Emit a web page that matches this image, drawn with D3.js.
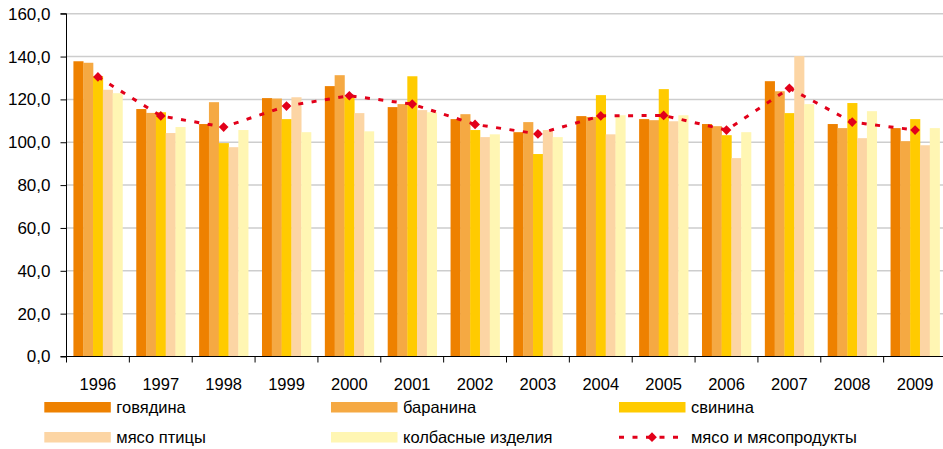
<!DOCTYPE html>
<html><head><meta charset="utf-8">
<script src="https://cdn.jsdelivr.net/npm/d3@7"></script>
<style>
html,body{margin:0;padding:0;background:#fff;}
svg{display:block;font-family:"Liberation Sans",Arial,sans-serif;}
</style></head>
<body>
<svg id="chart" width="943" height="449"></svg>
<script>
const years = ["1996","1997","1998","1999","2000","2001","2002","2003","2004","2005","2006","2007","2008","2009"];
const beef    = [137.8,115.5,108.5,120.6,126.2,116.4,110.8,104.7,112.2,110.8,108.5,128.5,108.5,106.6];
const mutton  = [137.1,113.7,118.7,120.4,131.3,117.8,113.1,109.4,111.8,110.3,107.5,123.8,106.6,100.5];
const pork    = [130.8,114.0, 99.6,110.8,121.0,130.8,105.7, 94.5,122.0,124.8,103.3,113.6,118.3,110.8];
const poultry = [124.5,104.3, 97.7,121.0,113.6,115.0,102.4,105.7,103.7,109.8, 92.6,140.2,101.9, 98.6];
const sausage = [122.9,107.1,105.7,104.7,105.1,114.0,103.7,102.4,112.6,112.6,104.7,117.8,114.5,106.6];
const meatTotal = [130.5,112.3,107.1,116.9,121.7,117.8,108.3,103.9,112.3,112.5,105.7,125.2,109.4,105.7];
const yTicks = [0,20,40,60,80,100,120,140,160];
const seriesNames = ["говядина","баранина","свинина","мясо птицы","колбасные изделия"];
const lineName = "мясо и мясопродукты";
const colors = ["#EE8100","#F5A943","#FFCB00","#FCD5A4","#FFF6B3"];
const lineColor = "#E2001A";

const seriesVals = [beef, mutton, pork, poultry, sausage];
const svg = d3.select("#chart");
const pLeft = 66.5, pRight = 946.5, pTop = 13.7, pBottom = 356.5;

const y = d3.scaleLinear().domain([0,160]).range([pBottom, pTop]);
const x = d3.scaleBand().domain(years).range([pLeft, pRight]).paddingInner(0.22).paddingOuter(0.11);
const xs = d3.scaleBand().domain(d3.range(5)).range([0, x.bandwidth()]);

// gridlines
svg.append("g").selectAll("line").data(yTicks.filter(d => d > 0)).join("line")
  .attr("x1", pLeft).attr("x2", 943).attr("y1", d => y(d)).attr("y2", d => y(d))
  .attr("stroke", "#CDCDCD").attr("stroke-width", 1.5);

// bars
const groups = svg.append("g").selectAll("g").data(years).join("g")
  .attr("transform", d => `translate(${x(d)},0)`);
groups.selectAll("rect").data((d, i) => seriesVals.map((s, k) => ({k, v: s[i]}))).join("rect")
  .attr("x", d => xs(d.k)).attr("width", xs.bandwidth() + 0.3)
  .attr("y", d => y(d.v)).attr("height", d => y(0) - y(d.v))
  .attr("fill", d => colors[d.k]);

// y axis
const yAxis = d3.axisLeft(y).tickValues(yTicks).tickSize(6).tickPadding(10)
  .tickFormat(d => d3.format(".1f")(d).replace(".", ","));
const gy = svg.append("g").attr("transform", `translate(${pLeft},0)`).call(yAxis);
gy.select(".domain").attr("stroke", "#000").attr("d", `M-6,${pTop}H0V${pBottom}H-6`);
gy.selectAll("text").attr("font-size", 17).attr("fill", "#000").attr("font-family", "Liberation Sans, Arial, sans-serif");

// x axis
const gx = svg.append("g").attr("transform", `translate(0,${pBottom})`);
gx.append("line").attr("x1", pLeft).attr("x2", 943).attr("y1", 0).attr("y2", 0).attr("stroke", "#000");
gx.selectAll("line.tk").data(d3.range(years.length + 1)).join("line").attr("class", "tk")
  .attr("x1", i => pLeft + i * x.step()).attr("x2", i => pLeft + i * x.step())
  .attr("y1", 0).attr("y2", 6).attr("stroke", "#000");
gx.selectAll("text").data(years).join("text")
  .attr("x", d => x(d) + x.bandwidth() / 2).attr("y", 33)
  .attr("text-anchor", "middle").attr("font-size", 16.5).attr("fill", "#000").text(d => d);

// line
const cx = (d, i) => x(years[i]) + x.bandwidth() / 2;
const line = d3.line().x((d, i) => cx(d, i)).y(d => y(d));
svg.append("path").datum(meatTotal).attr("d", line).attr("fill", "none")
  .attr("stroke", lineColor).attr("stroke-width", 3).attr("stroke-dasharray", "5,8.5");
const diamond = d3.symbol().type(d3.symbolDiamond2).size(60);
svg.append("g").selectAll("path").data(meatTotal).join("path")
  .attr("d", diamond).attr("fill", lineColor)
  .attr("transform", (d, i) => `translate(${cx(d, i)},${y(d)})`);

// legend
const legPos = [[44.3,402],[331,402],[619,402],[44.3,432],[331,432]];
const lg = svg.append("g");
seriesNames.forEach((n, k) => {
  const [lx, ly] = legPos[k];
  lg.append("rect").attr("x", lx).attr("y", ly).attr("width", 66.5).attr("height", 10.5).attr("fill", colors[k]);
  lg.append("text").attr("x", lx + 72).attr("y", ly + 5.5).attr("dy", "0.35em")
    .attr("font-size", 16.5).attr("fill", "#000").text(n);
});
{
  const lx = 619, ly = 437.2;
  lg.append("line").attr("x1", lx).attr("x2", lx + 67).attr("y1", ly).attr("y2", ly)
    .attr("stroke", lineColor).attr("stroke-width", 3).attr("stroke-dasharray", "5,8.5");
  lg.append("path").attr("d", diamond).attr("fill", lineColor).attr("transform", `translate(${lx + 33},${ly})`);
  lg.append("text").attr("x", lx + 72).attr("y", ly).attr("dy", "0.35em")
    .attr("font-size", 16.5).attr("fill", "#000").text(lineName);
}
</script>
</body></html>
